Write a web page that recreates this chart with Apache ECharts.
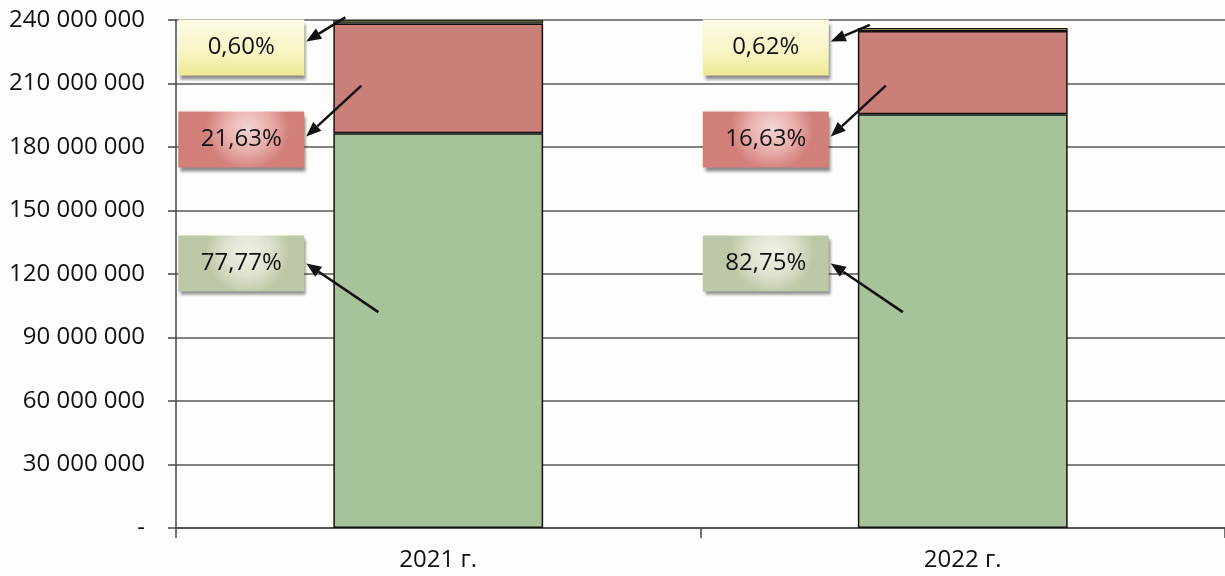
<!DOCTYPE html>
<html lang="ru">
<head>
    <meta charset="UTF-8">
    <title>Структура по годам</title>
    <script src="https://cdn.jsdelivr.net/npm/echarts@6/dist/echarts.min.js"></script>
    <style>
        html, body { margin: 0; padding: 0; background: #fdfdfc; }
        #chart { width: 1225px; height: 576px; }
    </style>
</head>
<body>
    <div id="chart"></div>
    <script>
        var categories = ['2021 г.', '2022 г.'];
        var greenValues = [186500000, 195500000];
        var redValues = [51900000, 39300000];
        var yellowValues = [1440000, 1460000];
        var greenShares = ['77,77%', '82,75%'];
        var redShares = ['21,63%', '16,63%'];
        var yellowShares = ['0,60%', '0,62%'];

        var FONT = '"Open Sans", "Liberation Sans", sans-serif';

        // оформление выносок (0 - жёлтая, 1 - красная, 2 - зелёная)
        var callouts = [
            {
                texts: yellowShares, boxAt: 227000000, arrowDx: 12, arrowDy: -3, tipDy: -6,
                fill: { type: 'linear', x: 0, y: 0, x2: 0, y2: 1, colorStops: [
                    { offset: 0, color: '#fcfbe4' }, { offset: 0.6, color: '#f7f4c2' }, { offset: 1, color: '#eee994' }] }
            },
            {
                texts: redShares, boxAt: 183500000, arrowDx: 28, arrowAt: 209000000, tipDy: -3,
                fill: { type: 'radial', x: 0.55, y: 0.3, r: 0.75, colorStops: [
                    { offset: 0, color: '#f4d6d4' }, { offset: 0.55, color: '#e8aeaa' }, { offset: 1, color: '#d27f7a' }] }
            },
            {
                texts: greenShares, boxAt: 125000000, arrowDx: 45, arrowAt: 102000000, tipDy: 0,
                fill: { type: 'radial', x: 0.55, y: 0.3, r: 0.75, colorStops: [
                    { offset: 0, color: '#eef1e6' }, { offset: 0.55, color: '#dde3cf' }, { offset: 1, color: '#bdc8a6' }] }
            }
        ];

        var totals = categories.map(function (c, i) {
            return greenValues[i] + redValues[i] + yellowValues[i];
        });

        var calloutData = [];
        categories.forEach(function (c, ci) {
            for (var si = 0; si < 3; si++) calloutData.push([ci, si]);
        });

        function fmt(v) {
            if (v === 0) return '-';
            return String(v).replace(/\B(?=(\d{3})+(?!\d))/g, ' ');
        }

        function renderCallout(params, api) {
            var ci = api.value(0), si = api.value(1);
            var cfg = callouts[si];
            var base = api.coord([ci, 0]);
            var bandW = api.size([1, 0])[0];
            var barLeft = base[0] - bandW * 0.2;
            var boxW = 126, boxH = 56;
            var boxRight = base[0] - 134;
            var boxCy = api.coord([ci, cfg.boxAt])[1];
            var startY = si === 0 ? api.coord([ci, totals[ci]])[1] + cfg.arrowDy : api.coord([ci, cfg.arrowAt])[1];
            var sx = barLeft + cfg.arrowDx, sy = startY;
            var tx = boxRight + 2, ty = boxCy + cfg.tipDy;
            var ang = Math.atan2(ty - sy, tx - sx);
            var len = 15, half = 6;
            var bx = tx - len * Math.cos(ang), by = ty - len * Math.sin(ang);
            var px = -Math.sin(ang) * half, py = Math.cos(ang) * half;
            return {
                type: 'group',
                children: [
                    {
                        type: 'rect',
                        shape: { x: boxRight - boxW, y: boxCy - boxH / 2, width: boxW, height: boxH },
                        style: {
                            fill: cfg.fill,
                            shadowColor: 'rgba(0,0,0,0.45)', shadowBlur: 3, shadowOffsetX: 2, shadowOffsetY: 4
                        }
                    },
                    {
                        type: 'text',
                        style: {
                            x: boxRight - boxW / 2, y: boxCy, text: cfg.texts[ci],
                            align: 'center', verticalAlign: 'middle',
                            fill: '#111', font: '24px ' + FONT
                        }
                    },
                    {
                        type: 'line',
                        shape: { x1: sx, y1: sy, x2: bx, y2: by },
                        style: { stroke: '#111', lineWidth: 2.5 }
                    },
                    {
                        type: 'polygon',
                        shape: { points: [[tx, ty], [bx + px, by + py], [bx - px, by - py]] },
                        style: { fill: '#111' }
                    }
                ]
            };
        }

        var chart = echarts.init(document.getElementById('chart'));
        chart.setOption({
            animation: false,
            backgroundColor: '#fdfdfc',
            grid: { left: 176, right: 0, top: 20, bottom: 48 },
            xAxis: {
                type: 'category',
                data: categories,
                axisLine: { lineStyle: { color: '#444', width: 1.5 } },
                axisTick: { show: true, length: 10, lineStyle: { color: '#444', width: 1.5 } },
                axisLabel: { color: '#111', fontFamily: FONT, fontSize: 24, margin: 20 }
            },
            yAxis: {
                type: 'value',
                min: 0,
                max: 240000000,
                interval: 30000000,
                axisLine: { show: true, lineStyle: { color: '#444', width: 1.5 } },
                axisTick: { show: true, length: 8, lineStyle: { color: '#444', width: 1.5 } },
                axisLabel: { color: '#111', fontFamily: FONT, fontSize: 24, margin: 31, formatter: fmt },
                splitLine: { lineStyle: { color: '#5a5a5a', width: 1.5 } }
            },
            series: [
                {
                    type: 'bar', stack: 'total', barWidth: '40%', data: greenValues,
                    itemStyle: { color: '#a7c39a', borderColor: '#111', borderWidth: 1.5 }
                },
                {
                    type: 'bar', stack: 'total', data: redValues,
                    itemStyle: { color: '#ca7f78', borderColor: '#111', borderWidth: 1.5 }
                },
                {
                    type: 'bar', stack: 'total', data: yellowValues,
                    itemStyle: { color: '#b5ad5a', borderColor: '#111', borderWidth: 1.2 }
                },
                {
                    type: 'custom',
                    z: 10,
                    renderItem: renderCallout,
                    encode: { x: 0, y: 1 },
                    data: calloutData,
                    clip: false
                }
            ]
        });
    </script>
</body>
</html>
